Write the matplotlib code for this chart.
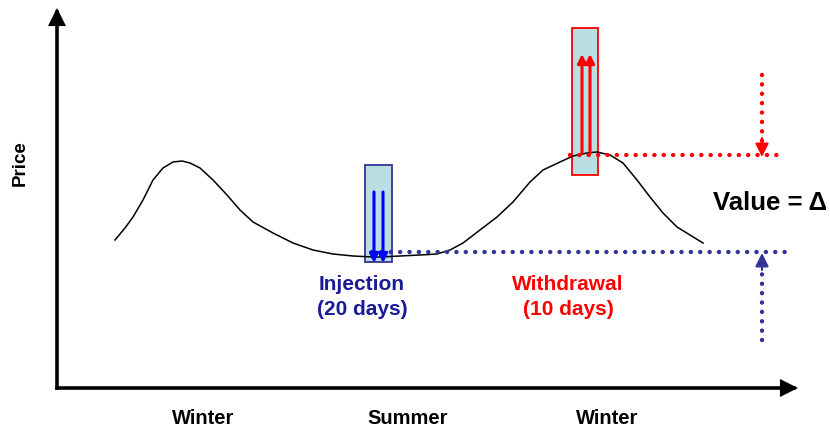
import matplotlib
matplotlib.use("Agg")
import matplotlib.pyplot as plt
from matplotlib.patches import Rectangle

plt.rcParams["font.family"] = ["Liberation Sans", "DejaVu Sans"]

# schematic price curve over the year (canvas units, y grows downwards)
CURVE_X = [115, 125, 133, 143, 153, 163, 173, 182, 190, 200, 213, 227, 240,
           253, 273, 293, 313, 333, 353, 373, 380, 400, 420, 437, 450, 463,
           480, 497, 513, 530, 543, 560, 573, 587, 597, 610, 623, 637, 650,
           663, 677, 690, 703]
CURVE_Y = [240, 228, 217, 200, 180, 168, 162, 161, 163, 168, 180, 195, 210,
           222, 233, 243, 250, 254, 256, 257, 257, 256, 255, 254, 250, 243,
           230, 217, 202, 182, 170, 162, 156, 153, 152, 155, 163, 180, 197,
           213, 227, 235, 243]

SEASONS = ["Winter", "Summer", "Winter"]
SEASON_X = [203, 408, 607]

# injection / withdrawal windows: (x0, x1, y_top, y_bottom)
INJ_BOX = (365, 392, 165, 262)
WDR_BOX = (572, 598, 28, 175)
INJ_ARROWS_X = [374, 383]
WDR_ARROWS_X = [582, 590]
INJ_LEVEL = 252
WDR_LEVEL = 155
DELTA_X = 762

TEAL = "#b9dfe3"
RED = "#ff0000"
NAVY = "#333399"
BLUE = "#0000ff"

fig = plt.figure(figsize=(8.3, 4.3), dpi=100)
ax = fig.add_axes([0, 0, 1, 1])
ax.set_xlim(0, 830)
ax.set_ylim(430, 0)
ax.axis("off")

# axes arrows (drawn from the shared corner so no blob at the origin)
arrow_kw = dict(arrowstyle="-|>", color="black", lw=2.6, mutation_scale=22,
                shrinkA=0, shrinkB=0, joinstyle="miter", capstyle="projecting")
ax.annotate("", xy=(57, 8), xytext=(57, 388), arrowprops=arrow_kw)
ax.annotate("", xy=(798, 388), xytext=(57, 388), arrowprops=arrow_kw)
ax.text(20, 163, "Price", rotation=90, ha="center", va="center",
        fontsize=13.5, fontweight="bold")

for s, x in zip(SEASONS, SEASON_X):
    ax.text(x, 418, s, ha="center", va="center", fontsize=14.5,
            fontweight="bold")

# price curve
ax.plot(CURVE_X, CURVE_Y, color="black", lw=1.1, zorder=2)

# boxes
x0, x1, yt, yb = INJ_BOX
ax.add_patch(Rectangle((x0, yt), x1 - x0, yb - yt, facecolor=TEAL,
                       edgecolor=NAVY, lw=1.3, zorder=1))
x0, x1, yt, yb = WDR_BOX
ax.add_patch(Rectangle((x0, yt), x1 - x0, yb - yt, facecolor=TEAL,
                       edgecolor=RED, lw=1.3, zorder=1))

for x in INJ_ARROWS_X:
    ax.annotate("", xy=(x, 263), xytext=(x, 192),
                arrowprops=dict(arrowstyle="-|>", color=BLUE, lw=2.2,
                                mutation_scale=13, shrinkA=0, shrinkB=0),
                zorder=4)
for x in WDR_ARROWS_X:
    ax.annotate("", xy=(x, 54), xytext=(x, 153),
                arrowprops=dict(arrowstyle="-|>", color=RED, lw=2.2,
                                mutation_scale=13, shrinkA=0, shrinkB=0),
                zorder=4)

# dotted levels
dot = dict(ls=(0, (0.01, 2.1)), dash_capstyle="round", lw=3.2, zorder=3)
ax.plot([372, 792], [INJ_LEVEL, INJ_LEVEL], color=NAVY, **dot)
ax.plot([570, 782], [WDR_LEVEL, WDR_LEVEL], color=RED, **dot)
ax.plot([DELTA_X, DELTA_X], [75, 145], color=RED, **dot)
ax.plot([DELTA_X, DELTA_X], [265, 342], color=NAVY, **dot)
ax.annotate("", xy=(DELTA_X, WDR_LEVEL + 2), xytext=(DELTA_X, 138),
            arrowprops=dict(arrowstyle="-|>", color=RED, lw=1.5,
                            mutation_scale=20, shrinkA=0, shrinkB=0))
ax.annotate("", xy=(DELTA_X, INJ_LEVEL + 1), xytext=(DELTA_X, 270),
            arrowprops=dict(arrowstyle="-|>", color=NAVY, lw=1.5,
                            mutation_scale=20, shrinkA=0, shrinkB=0))

ax.text(770, 203, "Value = \u0394", ha="center", va="center",
        fontsize=18.5, fontweight="bold")

ax.text(362, 297, "Injection\n(20 days)", ha="center", va="center",
        fontsize=15, fontweight="bold", color="#1a1a99", linespacing=1.35)
ax.text(568, 297, "Withdrawal\n(10 days)", ha="center", va="center",
        fontsize=15, fontweight="bold", color=RED, linespacing=1.35)

fig.savefig("out.png", dpi=100)
